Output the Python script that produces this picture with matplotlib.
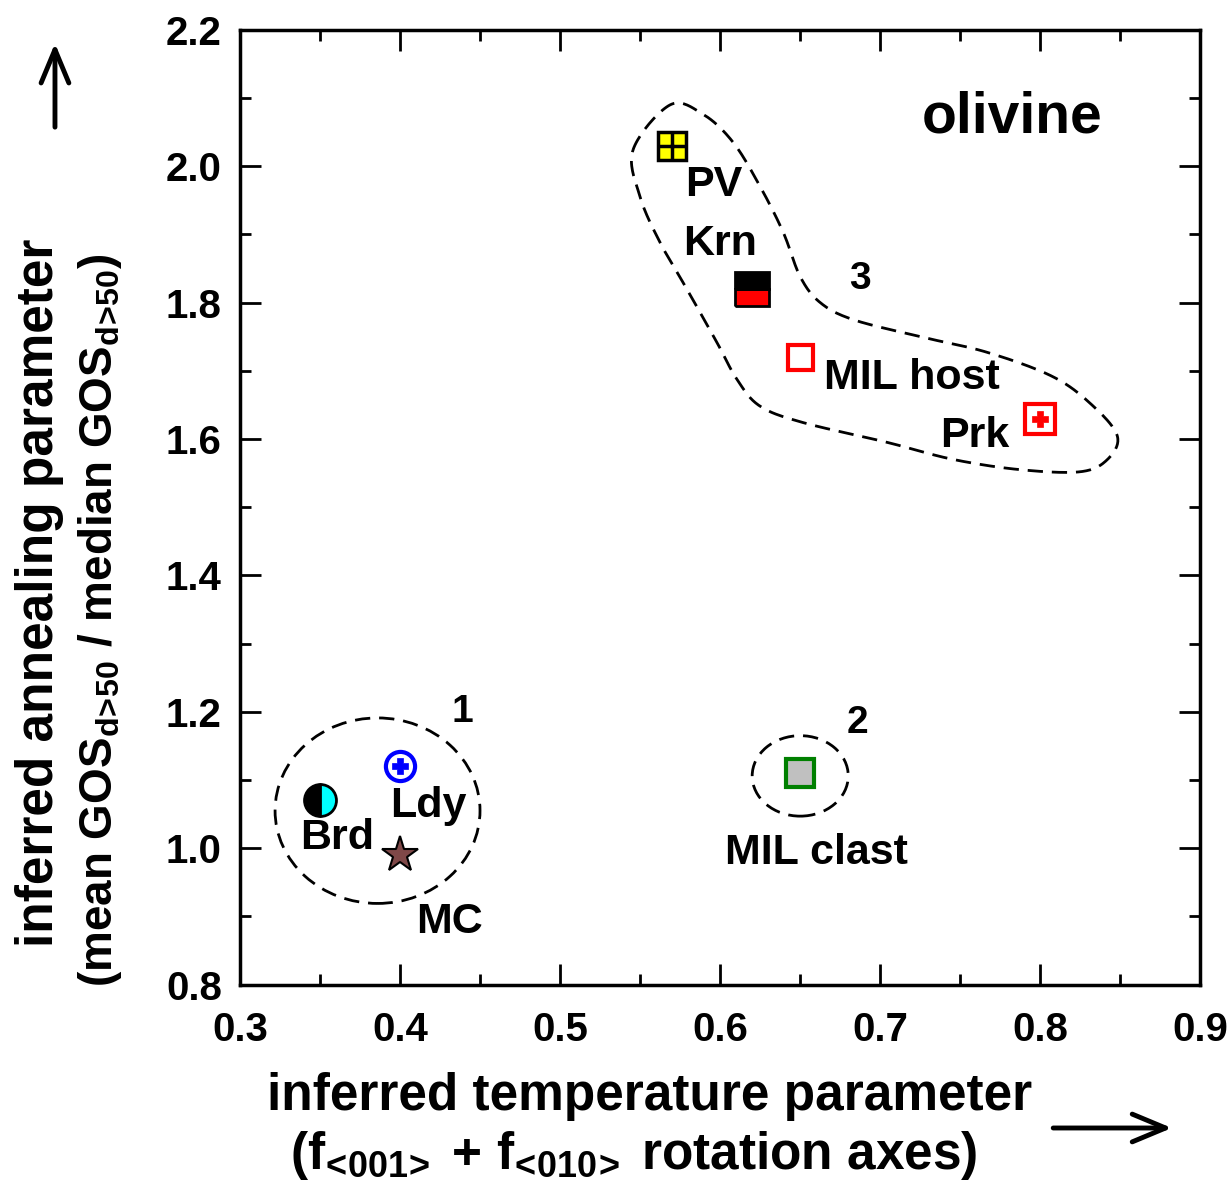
import numpy as np
import matplotlib
matplotlib.use("Agg")
import matplotlib.pyplot as plt
from matplotlib.patches import Ellipse, FancyArrowPatch

plt.rcParams['font.family'] = ['Liberation Sans', 'DejaVu Sans']
plt.rcParams['font.weight'] = 'bold'
plt.rcParams['mathtext.fontset'] = 'custom'
plt.rcParams['mathtext.rm'] = 'Liberation Sans:bold'
plt.rcParams['mathtext.it'] = 'Liberation Sans:bold'
plt.rcParams['mathtext.bf'] = 'Liberation Sans:bold'
plt.rcParams['mathtext.default'] = 'regular'

# data
names = ['PV', 'Krn', 'MIL host', 'Prk', 'Brd', 'Ldy', 'MC', 'MIL clast']
temp_param = [0.57, 0.62, 0.65, 0.80, 0.35, 0.40, 0.40, 0.65]
anneal_param = [2.03, 1.82, 1.72, 1.63, 1.07, 1.12, 0.99, 1.11]

# label positions (data coords)
label_x = [0.596, 0.600, 0.720, 0.759, 0.3606, 0.4175, 0.431, 0.660]
label_y = [1.973, 1.886, 1.690, 1.604, 1.0155, 1.062, 0.892, 0.9935]

# group outlines
group_names = ['1', '2', '3']
group_label_x = [0.4388, 0.6856, 0.6875]
group_label_y = [1.199, 1.183, 1.834]
g1_center, g1_w, g1_h = (0.386, 1.055), 0.128, 0.272
g2_center, g2_w, g2_h = (0.650, 1.106), 0.060, 0.118
g3_x = [0.5456, 0.5688, 0.5894, 0.6081, 0.625, 0.6394, 0.65, 0.6625, 0.6831,
        0.725, 0.7669, 0.8081, 0.8331, 0.8481, 0.8419, 0.825, 0.7875, 0.7456,
        0.7044, 0.6519, 0.625, 0.6106, 0.5981, 0.5794, 0.5625, 0.55]
g3_y = [2.024, 2.090, 2.076, 2.035, 1.970, 1.903, 1.838, 1.800, 1.775,
        1.750, 1.727, 1.691, 1.648, 1.604, 1.570, 1.552, 1.555, 1.570,
        1.595, 1.624, 1.648, 1.687, 1.741, 1.819, 1.888, 1.955]


def closed_spline(xs, ys, n=20):
    # catmull-rom through the outline points
    p = np.column_stack([xs, ys])
    m = len(p)
    out = []
    for i in range(m):
        p0, p1, p2, p3 = p[i - 1], p[i], p[(i + 1) % m], p[(i + 2) % m]
        for t in np.linspace(0, 1, n, endpoint=False):
            t2, t3 = t * t, t * t * t
            out.append(0.5 * (2 * p1 + (-p0 + p2) * t +
                              (2 * p0 - 5 * p1 + 4 * p2 - p3) * t2 +
                              (-p0 + 3 * p1 - 3 * p2 + p3) * t3))
    out.append(out[0])
    return np.array(out)


fig = plt.figure(figsize=(12.3, 11.92), dpi=100)
ax = fig.add_axes([0.195, 0.174, 0.781, 0.801])

dash = (0, (5.5, 3.2))
ax.add_patch(Ellipse(g1_center, g1_w, g1_h, fill=False, ls=dash, lw=2, color='black'))
ax.add_patch(Ellipse(g2_center, g2_w, g2_h, fill=False, ls=dash, lw=2, color='black'))
curve = closed_spline(g3_x, g3_y)
ax.plot(curve[:, 0], curve[:, 1], ls=dash, lw=2, color='black')

# PV: yellow square split in four
ax.plot(temp_param[0], anneal_param[0], 's', ms=20, mfc='yellow', mec='black', mew=2.5)
ax.plot(temp_param[0], anneal_param[0], '+', ms=19, mec='black', mew=2.5)
# Krn: black over red
ax.plot(temp_param[1], anneal_param[1], 's', ms=24, fillstyle='bottom',
        mfc='red', mfcalt='black', mec='black', mew=2)
# MIL host: open red square
ax.plot(temp_param[2], anneal_param[2], 's', ms=18, mfc='white', mec='red', mew=3)
# Prk: red square with plus
ax.plot(temp_param[3], anneal_param[3], 's', ms=22, mfc='white', mec='red', mew=3)
ax.plot(temp_param[3], anneal_param[3], 'P', ms=11, mfc='red', mec='red', mew=0.5)
# Brd: half black half cyan circle
ax.plot(temp_param[4], anneal_param[4], 'o', ms=23, fillstyle='left',
        mfc='black', mfcalt='cyan', mec='black', mew=2)
# Ldy: blue ring with plus
ax.plot(temp_param[5], anneal_param[5], 'o', ms=21, mfc='white', mec='blue', mew=3)
ax.plot(temp_param[5], anneal_param[5], 'P', ms=11, mfc='blue', mec='blue', mew=0.5)
# MC: star
ax.plot(temp_param[6], anneal_param[6], '*', ms=27, mfc='#7f4848', mec='black', mew=1.5)
# MIL clast: grey square, green edge
ax.plot(temp_param[7], anneal_param[7], 's', ms=20, mfc='#c0c0c0', mec='green', mew=3)

for name, lx, ly in zip(names, label_x, label_y):
    ax.text(lx, ly, name, fontsize=31, fontweight='bold', ha='center', va='center')
for name, lx, ly in zip(group_names, group_label_x, group_label_y):
    ax.text(lx, ly, name, fontsize=28, fontweight='bold', ha='center', va='center')
ax.text(0.7825, 2.071, 'olivine', fontsize=41, fontweight='bold', ha='center', va='center')

ax.set_xlim(0.3, 0.9)
ax.set_ylim(0.8, 2.2)
ax.set_xticks(np.arange(0.3, 0.91, 0.1))
ax.set_xticks(np.arange(0.35, 0.9, 0.1), minor=True)
ax.set_yticks(np.arange(0.8, 2.21, 0.2))
ax.set_yticks(np.arange(0.9, 2.2, 0.2), minor=True)
ax.set_xticklabels(['%.1f' % v for v in np.arange(0.3, 0.91, 0.1)])
ax.set_yticklabels(['%.1f' % v for v in np.arange(0.8, 2.21, 0.2)])
ax.tick_params(which='both', direction='in', top=True, right=True, width=2)
ax.tick_params(which='major', length=15, labelsize=29)
ax.tick_params(which='minor', length=8)
ax.tick_params(axis='x', pad=19)
ax.tick_params(axis='y', pad=13)
for lab in ax.get_xticklabels() + ax.get_yticklabels():
    lab.set_fontweight('bold')
for sp in ax.spines.values():
    sp.set_linewidth(2.5)

# \! cancels the extra space mathtext puts around < and >
fig.text(0.528, 0.080, 'inferred temperature parameter', fontsize=37,
         fontweight='bold', ha='center', va='center')
fig.text(0.515, 0.031, r'(f$_{\!<\!001\!>}$ + f$_{\!<\!010\!>}$ rotation axes)', fontsize=37,
         fontweight='bold', ha='center', va='center')
fig.text(0.0325, 0.503, 'inferred annealing parameter', fontsize=37,
         fontweight='bold', ha='center', va='center', rotation=90)
fig.text(0.0813, 0.480, r'(mean GOS$_{d\!>\!50}$ / median GOS$_{d\!>\!50}$)', fontsize=33,
         fontweight='bold', ha='center', va='center', rotation=90)

fig.add_artist(FancyArrowPatch((0.0447, 0.891), (0.0447, 0.966), transform=fig.transFigure,
                               arrowstyle='->,head_length=1.2,head_width=0.5', lw=3.5,
                               color='black', mutation_scale=20))
fig.add_artist(FancyArrowPatch((0.854, 0.0537), (0.955, 0.0537), transform=fig.transFigure,
                               arrowstyle='->,head_length=1.2,head_width=0.5', lw=3.5,
                               color='black', mutation_scale=20))

fig.savefig('out.png', dpi=100)
